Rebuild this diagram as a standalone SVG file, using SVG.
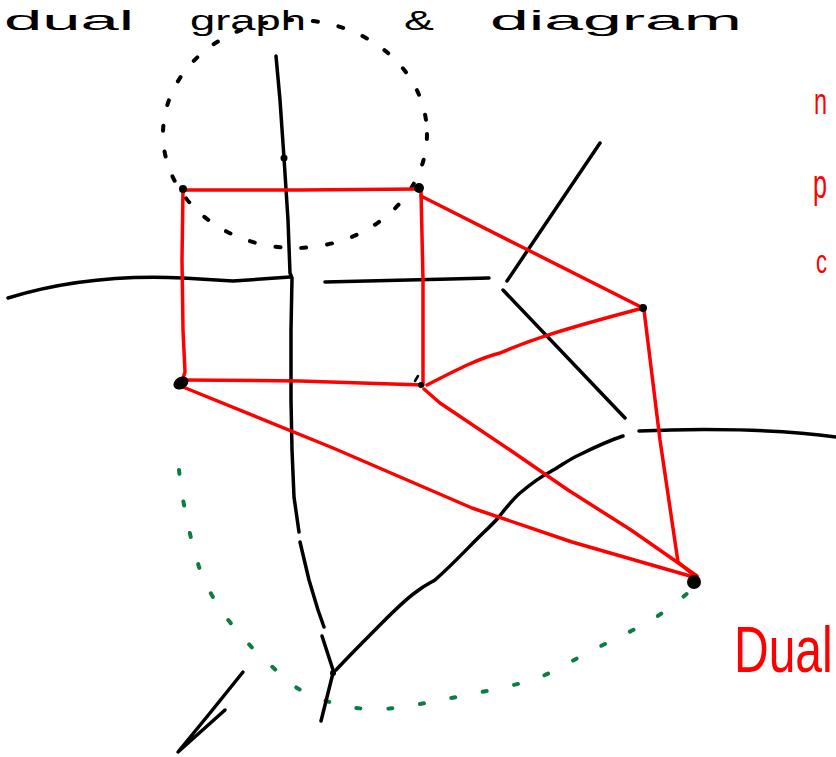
<svg xmlns="http://www.w3.org/2000/svg" width="836" height="757" viewBox="0 0 836 757">
<style>
.ink{fill:none;stroke:#000;stroke-width:3.5;stroke-linecap:round;stroke-linejoin:round}
.red{fill:none;stroke:#ff0000;stroke-width:3.5;stroke-linecap:round;stroke-linejoin:round}
.dots{fill:none;stroke:#000;stroke-width:4;stroke-linecap:round;stroke-dasharray:5 21}
.green{fill:none;stroke:#0a7d40;stroke-width:4;stroke-linecap:round;stroke-dasharray:4 28}
.hand{font-family:"Liberation Sans","DejaVu Sans",sans-serif;font-size:28px;fill:#000}
.rhand{font-family:"Liberation Sans","DejaVu Sans",sans-serif;fill:#ff0000}
.dot{fill:#000}
</style>
<rect width="836" height="757" fill="#fff"/>
<g id="title">
<text class="hand" x="4" y="30" textLength="130" lengthAdjust="spacingAndGlyphs">dual</text>
<text class="hand" x="190" y="30" textLength="116" lengthAdjust="spacingAndGlyphs">graph</text>
<text class="hand" x="404" y="30" textLength="30" lengthAdjust="spacingAndGlyphs">&amp;</text>
<text class="hand" x="490" y="30" textLength="252" lengthAdjust="spacingAndGlyphs">diagram</text>
</g>
<g id="side-notes">
<text class="rhand" x="814" y="114" font-size="36" textLength="13" lengthAdjust="spacingAndGlyphs">n</text>
<text class="rhand" x="813" y="198" font-size="40" textLength="14" lengthAdjust="spacingAndGlyphs">p</text>
<text class="rhand" x="816" y="273" font-size="34" textLength="11" lengthAdjust="spacingAndGlyphs">c</text>
<text class="rhand" x="0" y="0" font-size="48" transform="translate(734,672) scale(1,1.35)">Dual</text>
</g>
<g id="guides">
<ellipse class="dots" cx="295" cy="134" rx="132" ry="114"/>
<path class="green" d="M179,470 C182,500 190,540 201,573 C208,590 215,600 218,606 C226,618 233,626 241,635 C250,646 260,656 268,663 C276,670 282,676 287,681 C296,688 304,692 312,696 C328,702 342,706 356,708 C366,709 376,709 384,709 C396,708 405,707 415,705 C436,701 456,697 477,693 C496,689 515,685 533,680 C552,673 570,662 587,653 C610,641 633,631 655,618 C668,609 680,600 690,591"/>
</g>
<g id="primal">
<path class="ink" d="M276,56 L280,100 L284,158 L288,220 L290,273 L292,278 L291,330 L291,400 L292,450 L294,497 L299,532"/>
<path class="ink" d="M300,542 L309,580 L318,610 L324,627"/>
<path class="ink" d="M322,636 L334,673"/>
<path class="ink" d="M333,673 L321,721"/>
<path class="ink" d="M336,670 C350,655 360,645 372,633 C390,615 402,602 416,592 C425,585 430,583 435,580 C452,565 466,550 476,540 C485,531 492,525 498,518 C506,508 512,500 520,493 C532,483 540,477 550,472 C562,465 570,459 579,455 C595,447 608,441 623,436"/>
<path class="ink" d="M639,431 C700,428 780,429 836,437"/>
<path class="ink" d="M8,298 C60,282 120,275 183,278 L233,281 L290,277"/>
<path class="ink" d="M325,282 L450,279 L489,278"/>
<path class="ink" d="M600,143 L507,281"/>
<path class="ink" d="M503,290 L625,418"/>
<path class="ink" d="M243,672 L210,713 L178,752 L225,710"/>
<circle class="dot" cx="284" cy="158" r="3.5"/>
<circle class="dot" cx="333" cy="673" r="3"/>
</g>
<g id="dual-edges">
<path class="red" d="M183,190 L300,190 L419,189"/>
<path class="red" d="M183,190 L182,260 L183,330 L185,372 L182,382"/>
<path class="red" d="M421,190 L423,280 L423,384"/>
<path class="red" d="M185,380 L300,381 L423,385"/>
<path class="red" d="M421,196 L520,246 L643,308"/>
<path class="red" d="M427,385 C460,368 480,358 500,353 C530,340 560,330 643,308"/>
<path class="red" d="M424,389 L440,403 L510,450 L568,490 L631,530 L697,576"/>
<path class="red" d="M183,387 L333,448 L472,508 L572,542 L690,576"/>
<path class="red" d="M644,310 L660,440 L678,562 L697,578"/>
</g>
<g id="node-A"><circle class="dot" cx="183" cy="189" r="4"/></g>
<g id="node-B"><circle class="dot" cx="419" cy="188" r="5"/></g>
<g id="node-C"><ellipse class="dot" cx="181" cy="383" rx="8" ry="6" transform="rotate(-30 181 383)"/></g>
<g id="node-D"><circle class="dot" cx="421" cy="385" r="3"/><path class="ink" d="M418,376 L415,381" style="stroke-width:2.5"/></g>
<g id="node-E"><circle class="dot" cx="643" cy="308" r="4"/></g>
<g id="node-F"><circle class="dot" cx="694" cy="582" r="7"/></g>
</svg>
